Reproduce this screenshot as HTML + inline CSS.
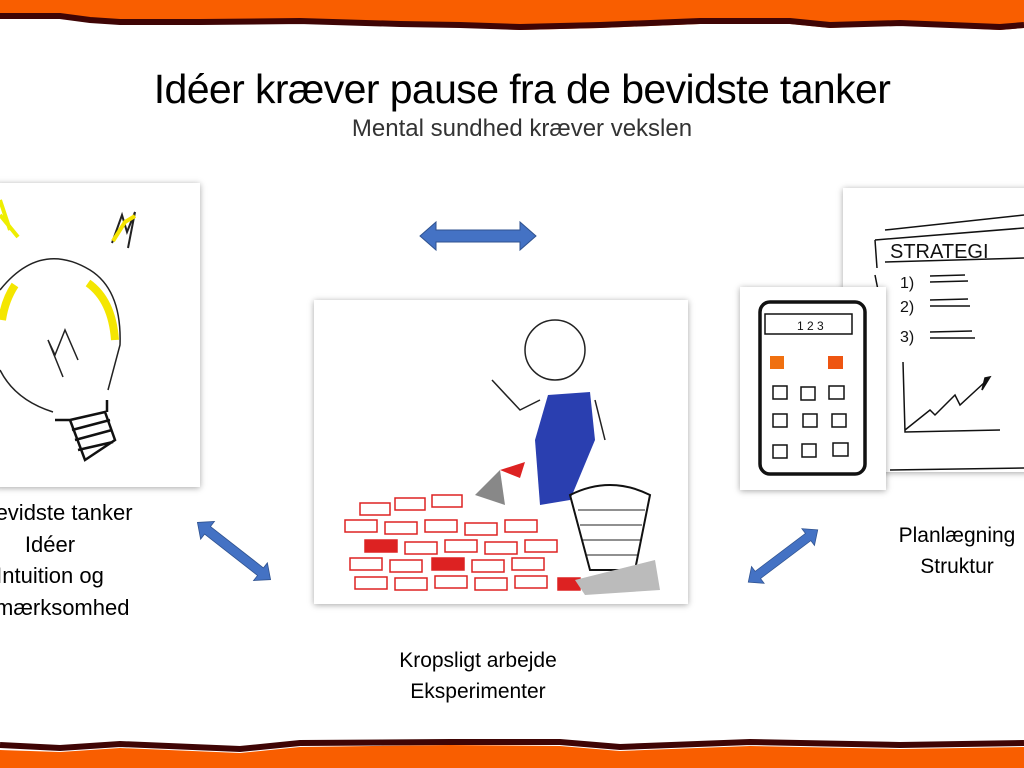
<!DOCTYPE html>
<html><head><meta charset="utf-8"><style>
body{margin:0;width:1024px;height:768px;overflow:hidden;background:#fff;position:relative;font-family:"Liberation Sans",sans-serif}
.t{position:absolute;white-space:nowrap;text-align:center;color:#111}
.img{position:absolute;background:#fff;box-shadow:0 1px 6px rgba(0,0,0,.35)}
</style></head><body>
<svg width="1024" height="768" style="position:absolute;left:0;top:0">
<path d="M0 0H1024V28 L1000 30 L900 25 L830 28 L790 24 L700 24 L600 28 L520 30 L460 27 L400 25 L300 23 L200 23 L120 22 L80 20 L60 18 L0 18Z" fill="#f95e00"/>
<path d="M0 16 L60 16 L90 20 L120 22 L200 22 L300 21 L400 24 L460 25 L520 27 L600 25 L700 21 L790 21 L830 25 L900 23 L1000 27 L1024 25" fill="none" stroke="#3f0505" stroke-width="6"/>
<path d="M0 768V750 L60 752 L120 748 L240 753 L300 747 L450 745 L560 746 L620 751 L750 746 L900 749 L1024 747V768Z" fill="#f95e00"/>
<path d="M0 745 L60 748 L120 744 L240 749 L300 743 L450 742 L560 742 L620 747 L750 742 L900 745 L1024 743" fill="none" stroke="#3f0505" stroke-width="6"/>
</svg>
<div class="t" style="left:0;width:1044px;top:66px;font-size:41px;letter-spacing:-0.6px;color:#000">Idéer kræver pause fra de bevidste tanker</div>
<div class="t" style="left:0;width:1044px;top:115px;font-size:24px;color:#333">Mental sundhed kræver vekslen</div>

<div class="img" style="left:-5px;top:183px;width:205px;height:304px">
<svg width="205" height="304" viewBox="0 0 205 304">
<g transform="translate(5,-183)">
<path d="M0 200 L10 230 M0 215 L18 237" stroke="#ee0" stroke-width="4"/>
<path d="M112 243 L122 215 L127 232 L135 212 L128 248" fill="none" stroke="#222" stroke-width="2"/>
<path d="M113 241 L125 222 L135 216" stroke="#f5e400" stroke-width="4" fill="none"/>
<path d="M0 290 Q40 240 90 270 Q122 290 120 345 L108 390 M53 412 Q15 400 0 370" fill="none" stroke="#222" stroke-width="1.5"/>
<path d="M88 283 Q112 300 115 340" stroke="#f4e600" stroke-width="8" fill="none"/>
<path d="M15 285 Q5 300 2 320" stroke="#f4e600" stroke-width="8" fill="none"/>
<path d="M63 377 L48 340 L55 355 L65 330 L78 360" fill="none" stroke="#222" stroke-width="1.5"/>
<path d="M70 420 L105 412 L115 440 L85 460 Z M72 430 L110 420 M75 440 L112 430 M78 450 L113 442 M55 420 L70 420 M107 400 L107 412" fill="none" stroke="#111" stroke-width="2.5"/>
</g></svg></div>
<div class="t" style="left:-60px;width:220px;top:497px;font-size:22px;line-height:31.5px;color:#000">Ubevidste tanker<br>Idéer<br>Intuition og<br>opmærksomhed</div>

<div class="img" style="left:314px;top:300px;width:374px;height:304px">
<svg width="374" height="304" viewBox="314 300 374 304">
<g fill="none" stroke="#d22" stroke-width="1.5">
<rect x="360" y="503" width="30" height="12"/><rect x="395" y="498" width="30" height="12"/><rect x="432" y="495" width="30" height="12"/>
<rect x="345" y="520" width="32" height="12"/><rect x="385" y="522" width="32" height="12"/><rect x="425" y="520" width="32" height="12"/><rect x="465" y="523" width="32" height="12"/><rect x="505" y="520" width="32" height="12"/>
<rect x="365" y="540" width="32" height="12" fill="#d22"/><rect x="405" y="542" width="32" height="12"/><rect x="445" y="540" width="32" height="12"/><rect x="485" y="542" width="32" height="12"/><rect x="525" y="540" width="32" height="12"/>
<rect x="350" y="558" width="32" height="12"/><rect x="390" y="560" width="32" height="12"/><rect x="432" y="558" width="32" height="12" fill="#d22"/><rect x="472" y="560" width="32" height="12"/><rect x="512" y="558" width="32" height="12"/>
<rect x="355" y="577" width="32" height="12"/><rect x="395" y="578" width="32" height="12"/><rect x="435" y="576" width="32" height="12"/><rect x="475" y="578" width="32" height="12"/><rect x="515" y="576" width="32" height="12"/><rect x="558" y="578" width="22" height="12" fill="#d22"/>
</g>
<circle cx="555" cy="350" r="30" fill="none" stroke="#222" stroke-width="1.5"/>
<path d="M548 395 L590 392 L595 440 L570 500 L540 505 L535 440Z" fill="#2a3fb0"/>
<path d="M492 380 L520 410 L540 400 M595 400 L605 440" fill="none" stroke="#222" stroke-width="1.5"/>
<path d="M500 470 L525 462 L520 478Z" fill="#d22"/>
<path d="M475 495 L500 470 L505 505Z" fill="#888"/>
<path d="M570 495 Q610 475 650 495 L635 570 L590 570 Z" fill="none" stroke="#111" stroke-width="2"/>
<path d="M578 510 L645 510 M580 525 L642 525 M583 540 L640 540 M586 555 L637 555" stroke="#222" stroke-width="1"/>
<path d="M575 580 L655 560 L660 590 L585 595Z" fill="#bbb"/>
</svg></div>
<div class="t" style="left:378px;width:200px;top:645px;font-size:21px;line-height:31px;color:#000">Kropsligt arbejde<br>Eksperimenter</div>

<div class="img" style="left:843px;top:188px;width:190px;height:284px">
<svg width="190" height="284" viewBox="843 188 190 284">
<g fill="none" stroke="#111" stroke-width="1.5">
<path d="M885 230 L1024 215 M875 240 L1024 228 M875 240 L877 268 M875 275 L878 290"/>
<text x="890" y="258" font-size="20" fill="#111" stroke="none" font-family="Liberation Sans">STRATEGI</text>
<path d="M885 262 L1024 258"/>
<text x="900" y="288" font-size="16" fill="#111" stroke="none">1)</text><path d="M930 276 L965 275 M930 282 L968 281"/>
<text x="900" y="312" font-size="16" fill="#111" stroke="none">2)</text><path d="M930 300 L968 299 M930 306 L970 306"/>
<text x="900" y="342" font-size="16" fill="#111" stroke="none">3)</text><path d="M930 332 L972 331 M930 338 L975 338"/>
<path d="M903 362 L905 432 L1000 430 M905 430 L930 410 L935 415 L955 395 L960 405 L985 382"/>
<path d="M985 378 L990 377 L982 390Z" fill="#111"/>
<path d="M890 470 L1024 468"/>
</g></svg></div>
<div class="img" style="left:740px;top:287px;width:146px;height:203px">
<svg width="146" height="203" viewBox="740 287 146 203">
<rect x="760" y="302" width="105" height="172" rx="10" fill="none" stroke="#111" stroke-width="3.5"/>
<rect x="765" y="314" width="87" height="20" fill="none" stroke="#111" stroke-width="1.5"/>
<text x="797" y="330" font-size="12" fill="#111">1 2 3</text>
<rect x="770" y="356" width="14" height="13" fill="#f07010"/><rect x="828" y="356" width="15" height="13" fill="#e51"/>
<g fill="none" stroke="#111" stroke-width="1.5">
<rect x="773" y="386" width="14" height="13"/><rect x="801" y="387" width="14" height="13"/><rect x="829" y="386" width="15" height="13"/>
<rect x="773" y="414" width="14" height="13"/><rect x="803" y="414" width="14" height="13"/><rect x="832" y="414" width="14" height="13"/>
<rect x="773" y="445" width="14" height="13"/><rect x="802" y="444" width="14" height="13"/><rect x="833" y="443" width="15" height="13"/>
</g></svg></div>
<div class="t" style="left:887px;width:140px;top:520px;font-size:21px;line-height:31px;color:#000">Planlægning<br>Struktur</div>

<svg width="1024" height="768" style="position:absolute;left:0;top:0;pointer-events:none">
<defs><path id="ar" d="M-58 0 L-42 -14 L-42 -6 L42 -6 L42 -14 L58 0 L42 14 L42 6 L-42 6 L-42 14Z" fill="#4472c4" stroke="#2f528f" stroke-width="1"/></defs>
<use href="#ar" transform="translate(478,236)"/>
<use href="#ar" transform="translate(234,551) rotate(38) scale(0.8)"/>
<use href="#ar" transform="translate(783,556) rotate(-37) scale(0.75)"/>
</svg>
</body></html>
